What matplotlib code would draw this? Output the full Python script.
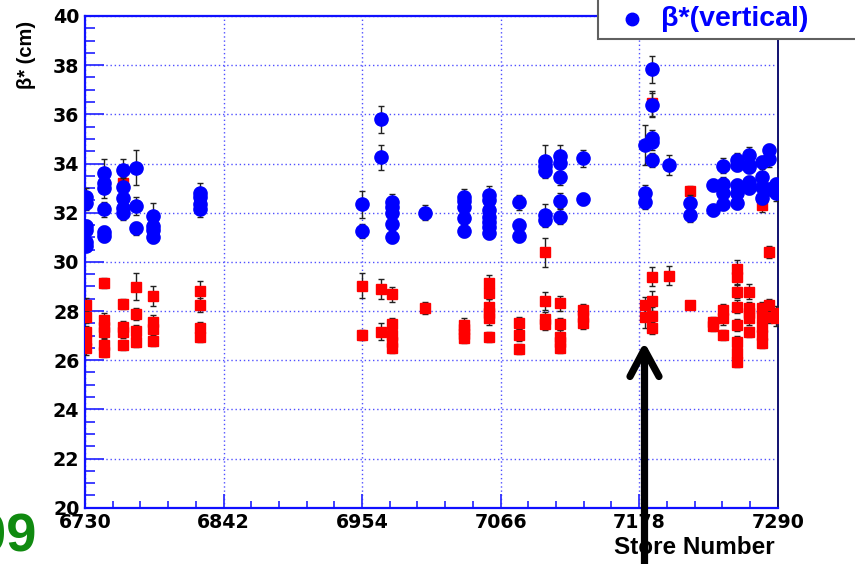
import matplotlib
matplotlib.use("Agg")
import matplotlib.pyplot as plt
from matplotlib.ticker import AutoMinorLocator
from matplotlib.patches import Rectangle
from matplotlib.lines import Line2D

# ---------------- data ----------------
v_store = ([6731]*6 + [6745]*6 + [6761]*5 + [6771]*3 + [6785]*4 + [6823]*4 +
           [6954]*2 + [6969]*2 + [6978]*5 + [7005] + [7036]*5 + [7057]*7 +
           [7081]*3 + [7102]*5 + [7114]*5 + [7133]*2 + [7183]*3 + [7188]*5 +
           [7202] + [7219]*2 + [7238]*2 + [7246]*4 + [7257]*5 + [7267]*5 +
           [7277]*4 + [7283]*3 + [7289]*2)
v_beta = [32.65, 32.41, 31.46, 31.30, 30.82, 30.64,
          33.60, 33.19, 32.99, 32.14, 31.20, 31.05,
          33.74, 33.03, 32.59, 32.18, 32.00,
          33.83, 32.27, 31.36,
          31.86, 31.46, 31.30, 31.00,
          32.81, 32.65, 32.34, 32.14,
          32.35, 31.25,
          35.80, 34.25,
          32.45, 32.24, 31.97, 31.53, 31.00,
          32.00,
          32.65, 32.47, 32.24, 31.77, 31.27,
          32.72, 32.52, 32.11, 31.84, 31.63, 31.43, 31.19,
          32.42, 31.50, 31.04,
          34.10, 33.91, 33.71, 31.91, 31.70,
          34.32, 34.01, 33.46, 32.49, 31.84,
          34.21, 32.56,
          34.75, 32.81, 32.45,
          37.84, 36.38, 35.03, 34.89, 34.14,
          33.94,
          32.41, 31.91,
          33.13, 32.11,
          33.91, 33.15, 32.79, 32.35,
          34.14, 33.94, 33.13, 32.81, 32.38,
          33.87, 34.34, 33.94, 33.26, 32.99,
          34.07, 33.46, 33.06, 32.59,
          34.55, 34.17, 32.95,
          33.15, 32.79]
v_err = [0.35, 0.30, 0.25, 0.25, 0.25, 0.20,
         0.60, 0.40, 0.40, 0.30, 0.25, 0.25,
         0.45, 0.40, 0.35, 0.30, 0.30,
         0.70, 0.35, 0.25,
         0.55, 0.30, 0.30, 0.25,
         0.40, 0.35, 0.30, 0.30,
         0.55, 0.30,
         0.55, 0.50,
         0.30, 0.25, 0.25, 0.25, 0.25,
         0.30,
         0.30, 0.25, 0.25, 0.25, 0.25,
         0.35, 0.30, 0.25, 0.25, 0.25, 0.25, 0.25,
         0.30, 0.25, 0.25,
         0.65, 0.30, 0.30, 0.45, 0.30,
         0.45, 0.30, 0.35, 0.30, 0.30,
         0.35, 0.25,
         0.80, 0.30, 0.30,
         0.55, 0.50, 0.35, 0.35, 0.30,
         0.40,
         0.30, 0.30,
         0.25, 0.25,
         0.30, 0.30, 0.25, 0.25,
         0.30, 0.25, 0.25, 0.25, 0.25,
         0.25, 0.35, 0.25, 0.25, 0.25,
         0.25, 0.30, 0.25, 0.25,
         0.25, 0.30, 0.25,
         0.25, 0.30]

h_store = ([6731]*5 + [6745]*6 + [6761]*5 + [6771]*4 + [6785]*4 + [6823]*4 +
           [6954]*2 + [6969]*2 + [6978]*5 + [7005] + [7036]*4 + [7057]*6 +
           [7081]*3 + [7102]*4 + [7114]*5 + [7133]*3 + [7183]*2 + [7188]*5 +
           [7202] + [7219]*2 + [7238]*2 + [7246]*3 + [7257]*8 + [7267]*5 +
           [7277]*6 + [7283]*3 + [7289]*2)
h_beta = [28.24, 27.77, 27.16, 26.82, 26.48,
          29.15, 27.63, 27.36, 27.16, 26.62, 26.35,
          33.22, 28.27, 27.34, 27.16, 26.61,
          28.99, 27.87, 27.20, 26.75,
          28.61, 27.57, 27.26, 26.78,
          28.81, 28.24, 27.30, 26.96,
          29.03, 27.02,
          28.90, 27.16,
          28.68, 27.46, 27.02, 26.75, 26.48,
          28.11,
          27.45, 27.25, 27.05, 26.90,
          29.13, 28.72, 28.18, 27.91, 27.70, 26.93,
          27.50, 27.02, 26.45,
          30.39, 28.41, 27.67, 27.47,
          28.31, 27.47, 26.96, 26.73, 26.48,
          28.04, 27.77, 27.50,
          28.24, 27.77,
          36.45, 29.40, 28.42, 27.81, 27.32,
          29.44,
          32.89, 28.24,
          27.57, 27.39,
          28.04, 27.70, 27.02,
          29.71, 29.40, 28.79, 28.18, 27.43, 26.75, 26.28, 25.94,
          28.79, 28.11, 27.91, 27.70, 27.16,
          32.31, 28.11, 27.77, 27.36, 27.02, 26.69,
          30.41, 28.24, 27.77,
          27.91, 27.70]
h_err = [0.30, 0.25, 0.25, 0.25, 0.25,
         0.20, 0.30, 0.25, 0.25, 0.25, 0.20,
         0.25, 0.20, 0.25, 0.25, 0.20,
         0.55, 0.25, 0.25, 0.20,
         0.40, 0.25, 0.25, 0.20,
         0.40, 0.30, 0.25, 0.20,
         0.50, 0.20,
         0.40, 0.35,
         0.30, 0.25, 0.25, 0.25, 0.20,
         0.25,
         0.25, 0.25, 0.25, 0.20,
         0.35, 0.25, 0.30, 0.25, 0.25, 0.20,
         0.25, 0.25, 0.20,
         0.60, 0.35, 0.30, 0.25,
         0.30, 0.25, 0.25, 0.25, 0.20,
         0.25, 0.25, 0.25,
         0.35, 0.45,
         0.50, 0.40, 0.40, 0.35, 0.25,
         0.40,
         0.20, 0.15,
         0.20, 0.20,
         0.25, 0.25, 0.20,
         0.35, 0.30, 0.25, 0.25, 0.25, 0.25, 0.20, 0.20,
         0.30, 0.25, 0.25, 0.25, 0.20,
         0.30, 0.25, 0.25, 0.25, 0.25, 0.20,
         0.25, 0.25, 0.25,
         0.30, 0.30]

x_ticks = [6730, 6842, 6954, 7066, 7178, 7290]
y_ticks = list(range(20, 41, 2))
legend_label = "β*(vertical)"
x_label = "Store Number"
y_label = "β* (cm)"
year_text = "2009"

# ---------------- figure ----------------
W, H = 855, 564
fig = plt.figure(figsize=(W / 100, H / 100), dpi=100)
ax = fig.add_axes([85 / W, 1 - 507.7 / H, (777.7 - 85) / W, (507.7 - 16) / H])

lab_font = dict(family="Liberation Sans", weight="bold")

ax.errorbar(h_store, h_beta, yerr=h_err, fmt="s", color="#ff0000", ms=7.4,
            mec="#ff0000", ecolor="#222222", elinewidth=1.0, capsize=2.0,
            capthick=1.0, zorder=3)
ax.errorbar(v_store, v_beta, yerr=v_err, fmt="o", color="#0000ff", ms=9.5,
            mec="#0000ff", ecolor="#222222", elinewidth=1.0, capsize=2.0,
            capthick=1.0, zorder=4)

ax.set_xlim(x_ticks[0], x_ticks[-1])
ax.set_ylim(y_ticks[0], y_ticks[-1])
ax.set_xticks(x_ticks)
ax.set_yticks(y_ticks)
ax.xaxis.set_minor_locator(AutoMinorLocator(5))
ax.yaxis.set_minor_locator(AutoMinorLocator(4))
ax.tick_params(axis="y", which="major", direction="in", length=14, width=1.3,
               color="#3030ff", pad=4)
ax.tick_params(axis="y", which="minor", direction="in", length=7, width=1.3,
               color="#3030ff")
ax.tick_params(axis="x", which="major", direction="in", length=10, width=1.3,
               color="#3030ff", pad=4)
ax.tick_params(axis="x", which="minor", direction="in", length=5, width=1.3,
               color="#3030ff")
for lbl in ax.get_xticklabels() + ax.get_yticklabels():
    lbl.set_fontfamily("DejaVu Sans")
    lbl.set_fontweight("bold")
    lbl.set_fontsize(13.7)
ax.grid(True, which="major", color="#5050ff", linestyle=(0, (1, 2)),
        linewidth=1.0, zorder=0)
ax.set_axisbelow(True)
for s in ["left", "bottom", "top"]:
    ax.spines[s].set_color("#1010ff")
    ax.spines[s].set_linewidth(1.6)
ax.spines["right"].set_color("#101070")
ax.spines["right"].set_linewidth(1.4)

# axis titles
fig.text(27 / W, 1 - 55 / H, y_label, rotation=90, ha="center", va="center",
         fontsize=14.5, **lab_font)
fig.text(775 / W, 1 - 548 / H, x_label, ha="right", va="center",
         fontsize=17.5, **lab_font)

# legend box
fig.add_artist(Rectangle((598 / W, 1 - 39 / H), 0.4, 0.2,
                         transform=fig.transFigure, fc="white",
                         ec="#606060", lw=1.5, zorder=5))
fig.add_artist(Line2D([631.7 / W], [1 - 19 / H], marker="o", color="#0000ff",
                      ms=9, transform=fig.transFigure, zorder=6))
fig.text(661 / W, 1 - 19 / H, legend_label, ha="left", va="center",
         fontsize=20.5, color="#0000ff", zorder=6, **lab_font)

# green year text, partly off the left edge
fig.text(36 / W, 1 - 552 / H, year_text, ha="right", va="baseline",
         fontsize=39, color="#108a10", zorder=6, **lab_font)

# big black line arrow (open head, round ends)
cx = 644.3
arrow_style = dict(color="black", lw=5.2, solid_capstyle="round",
                   solid_joinstyle="round", transform=fig.transFigure, zorder=7)
fig.add_artist(Line2D([cx / W, cx / W], [1 - 350 / H, 1 - 580 / H],
                      **arrow_style))
fig.add_artist(Line2D([630 / W, cx / W, 659 / W],
                      [1 - 376.5 / H, 1 - 349.5 / H, 1 - 376.5 / H],
                      **arrow_style))

fig.savefig("out.png", dpi=100)
